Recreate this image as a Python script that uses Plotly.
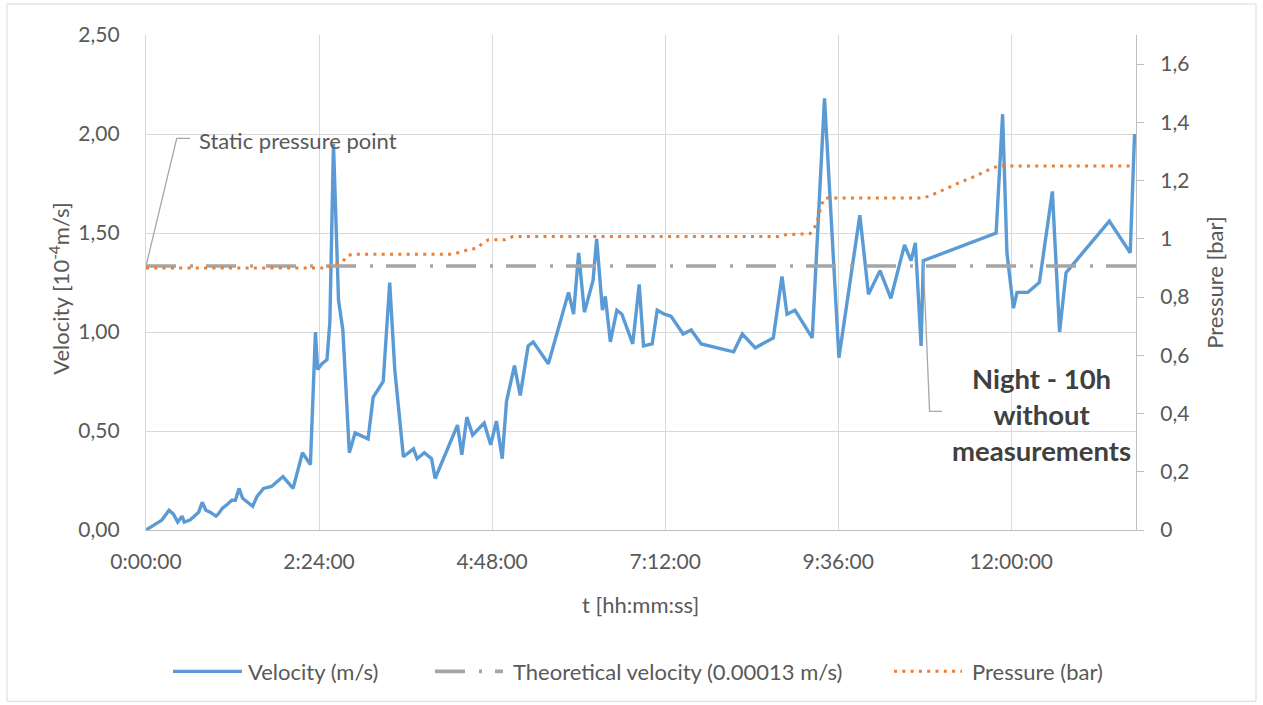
import plotly.graph_objects as go

# ---------------- data ----------------
tick_labels = ["0:00:00", "2:24:00", "4:48:00", "7:12:00", "9:36:00", "12:00:00"]

# time in hours, velocity in 10^-4 m/s
vel_t = [0.00, 0.09, 0.15, 0.22, 0.32, 0.38, 0.44, 0.50, 0.53, 0.61, 0.67, 0.73, 0.78, 0.83, 0.89,
         0.97, 1.00, 1.06, 1.13, 1.19, 1.24, 1.29, 1.34, 1.48, 1.54, 1.63, 1.74, 1.90, 2.04, 2.17,
         2.28, 2.35, 2.38, 2.44, 2.51, 2.55, 2.60, 2.67, 2.73, 2.82, 2.90, 3.08, 3.15, 3.29, 3.38,
         3.45, 3.57, 3.71, 3.76, 3.86, 3.96, 4.01, 4.32, 4.38, 4.45, 4.53, 4.69, 4.78, 4.86, 4.94,
         5.00, 5.11, 5.19, 5.30, 5.37, 5.58, 5.86, 5.93, 6.00, 6.08, 6.14, 6.20, 6.25, 6.33, 6.37,
         6.44, 6.53, 6.60, 6.75, 6.84, 6.90, 7.02, 7.09, 7.19, 7.28, 7.45, 7.56, 7.70, 8.15, 8.27,
         8.45, 8.70, 8.82, 8.89, 9.00, 9.24, 9.41, 9.61, 9.90, 10.02, 10.18, 10.33, 10.52, 10.61, 10.67,
         10.75, 10.78, 11.79, 11.88, 11.94, 12.03, 12.08, 12.23, 12.39, 12.57, 12.67, 12.76, 13.36, 13.65,
         13.71]
vel = [0.00, 0.02, 0.03, 0.05, 0.10, 0.08, 0.04, 0.07, 0.04, 0.05, 0.07, 0.09, 0.14, 0.10, 0.09,
       0.07, 0.08, 0.11, 0.13, 0.15, 0.15, 0.21, 0.16, 0.12, 0.17, 0.21, 0.22, 0.27, 0.21, 0.39,
       0.33, 1.00, 0.81, 0.84, 0.86, 1.05, 1.95, 1.16, 1.01, 0.39, 0.49, 0.46, 0.67, 0.75, 1.25,
       0.81, 0.37, 0.41, 0.36, 0.39, 0.36, 0.26, 0.53, 0.38, 0.57, 0.48, 0.54, 0.43, 0.55, 0.36,
       0.65, 0.83, 0.68, 0.93, 0.95, 0.84, 1.20, 1.09, 1.40, 1.10, 1.18, 1.26, 1.47, 1.11, 1.18,
       0.95, 1.11, 1.09, 0.94, 1.24, 0.93, 0.94, 1.11, 1.09, 1.08, 0.99, 1.01, 0.94, 0.90, 0.99,
       0.92, 0.97, 1.28, 1.09, 1.11, 0.97, 2.18, 0.87, 1.59, 1.19, 1.31, 1.17, 1.44, 1.36, 1.45,
       0.93, 1.36, 1.50, 2.10, 1.40, 1.12, 1.20, 1.20, 1.25, 1.71, 1.00, 1.30, 1.56, 1.40,
       2.00]

theo_t = [0.00, 13.73]
theo_v = [1.333, 1.333]

# pressure in bar
pres_t = [0.00, 2.52, 2.60, 2.72, 2.79, 2.86, 4.26, 4.37, 4.47, 4.59, 4.66, 4.75, 4.98, 5.09,
          8.77, 8.87, 9.21, 9.27, 9.31, 9.34, 9.37, 9.41, 10.76, 10.87, 11.08, 11.28, 11.50,
          11.71, 11.82, 13.68]
pres = [0.90, 0.90, 0.914, 0.919, 0.942, 0.947, 0.947, 0.955, 0.963, 0.968, 0.983, 0.997, 0.997,
        1.008, 1.008, 1.014, 1.018, 1.037, 1.063, 1.09, 1.117, 1.14, 1.14, 1.147, 1.171, 1.193,
        1.215, 1.240, 1.25, 1.25]

night_idx = 106  # last measurement before the night gap


def to_hours(s):
    h, m, sec = (int(p) for p in s.split(":"))
    return h + m / 60 + sec / 3600


tick_vals = [to_hours(s) for s in tick_labels]

# ---------------- styles ----------------
FONT = "Lato"
TXT = "#595959"
BLUE = "#5B9BD5"
GRAY = "#A5A5A5"
ORANGE = "#ED7D31"
GRID = "#D9D9D9"
AXIS = "#BFBFBF"
GRAY_DASH = "30px,14px,3px,13px"
ORANGE_DOT = "3px,5.3px"
TICK_FS = 21
TEXT_FS = 22

W, H = 1263, 705
L, R, T, B = 146, 127, 35, 174.5
PW, PH = W - L - R, H - T - B


def px(x):  # pixel x -> paper
    return (x - L) / PW


def py(y):  # pixel y -> paper
    return (H - B - y) / PH


fig = go.Figure()
fig.add_trace(go.Scatter(x=vel_t, y=vel, mode="lines", name="Velocity (m/s)",
                         line=dict(color=BLUE, width=3.4), showlegend=False))
fig.add_trace(go.Scatter(x=theo_t, y=theo_v, mode="lines", name="Theoretical velocity (0.00013 m/s)",
                         line=dict(color=GRAY, width=3.6, dash=GRAY_DASH), showlegend=False))
fig.add_trace(go.Scatter(x=pres_t, y=pres, mode="lines", name="Pressure (bar)", yaxis="y2",
                         line=dict(color=ORANGE, width=3, dash=ORANGE_DOT), showlegend=False))

shapes = []
annotations = []

# chart border
shapes.append(dict(type="rect", xref="paper", yref="paper",
                   x0=px(7), x1=px(1256), y0=py(702), y1=py(4),
                   line=dict(color=GRID, width=1), layer="below"))

# leader: static pressure point
sx, sy = theo_t[0], theo_v[0]
shapes.append(dict(type="path", xref="x", yref="y",
                   path=f"M {sx},{sy} L 0.426,1.978 L 0.611,1.978",
                   line=dict(color="#A6A6A6", width=1.3)))
annotations.append(dict(x=0.71, y=1.969, xref="x", yref="y", text="Static pressure point",
                        showarrow=False, xanchor="left", yanchor="middle",
                        font=dict(family=FONT, size=TEXT_FS, color=TXT)))

# leader: night gap
nx, ny = vel_t[night_idx], vel[night_idx]
shapes.append(dict(type="path", xref="x", yref="y",
                   path=f"M {nx},{ny} L 10.867,0.599 L 11.04,0.599",
                   line=dict(color="#A6A6A6", width=1.3)))
annotations.append(dict(x=12.42, y=0.583, xref="x", yref="y",
                        text="<b>Night - 10h<br>without<br>measurements</b>",
                        showarrow=False, xanchor="center", yanchor="middle", align="center",
                        font=dict(family=FONT, size=27.5, color="#404040")))

# axis titles
annotations.append(dict(x=px(60), y=py(289), xref="paper", yref="paper", textangle=-90,
                        text="Velocity [10<sup>-4</sup>m/s]", showarrow=False,
                        xanchor="center", yanchor="middle",
                        font=dict(family=FONT, size=TEXT_FS, color=TXT)))
annotations.append(dict(x=px(1215), y=py(283), xref="paper", yref="paper", textangle=-90,
                        text="Pressure [bar]", showarrow=False,
                        xanchor="center", yanchor="middle",
                        font=dict(family=FONT, size=TEXT_FS, color=TXT)))
annotations.append(dict(x=px(640), y=py(605), xref="paper", yref="paper",
                        text="t [hh:mm:ss]", showarrow=False,
                        xanchor="center", yanchor="middle",
                        font=dict(family=FONT, size=TEXT_FS, color=TXT)))

# manual legend
leg_y = py(672)
legend_items = [
    (173, 242, 246, BLUE, 3.4, None, fig.data[0].name),
    (435, 503, 511, GRAY, 3.6, GRAY_DASH, fig.data[1].name),
    (894, 962, 970, ORANGE, 3, ORANGE_DOT, fig.data[2].name),
]
for x0, x1, tx, col, wd, dash, name in legend_items:
    ln = dict(color=col, width=wd)
    if dash:
        ln["dash"] = dash
    shapes.append(dict(type="line", xref="paper", yref="paper",
                       x0=px(x0), x1=px(x1), y0=leg_y, y1=leg_y, line=ln))
    annotations.append(dict(x=px(tx), y=leg_y, xref="paper", yref="paper", text=name,
                            showarrow=False, xanchor="left", yanchor="middle",
                            font=dict(family=FONT, size=TEXT_FS, color=TXT)))

fig.update_layout(
    width=W, height=H,
    margin=dict(l=L, r=R, t=T, b=B, pad=0),
    paper_bgcolor="white", plot_bgcolor="white",
    separators=",.",
    font=dict(family=FONT, size=TICK_FS, color=TXT),
    showlegend=False,
    shapes=shapes,
    annotations=annotations,
    xaxis=dict(range=[0, 13.73], tickvals=tick_vals, ticktext=tick_labels,
               showgrid=True, gridcolor=GRID, gridwidth=1.3, zeroline=False,
               showline=True, linecolor=AXIS, linewidth=1.3,
               ticks="", ticklabelstandoff=13,
               tickfont=dict(family=FONT, size=TICK_FS, color=TXT)),
    yaxis=dict(range=[0, 2.5], dtick=0.5, tick0=0, tickformat=".2f",
               showgrid=True, gridcolor=GRID, gridwidth=1.3, zeroline=False,
               showline=True, linecolor=GRID, linewidth=1.3,
               ticks="", ticklabelstandoff=21,
               tickfont=dict(family=FONT, size=TICK_FS, color=TXT)),
    yaxis2=dict(range=[0, 1.7], dtick=0.2, tick0=0, overlaying="y", side="right",
                showgrid=False, zeroline=False,
                showline=True, linecolor=AXIS, linewidth=1.3,
                ticks="outside", ticklen=7, tickcolor=AXIS, tickwidth=1.3,
                ticklabelstandoff=12,
                tickfont=dict(family=FONT, size=TICK_FS, color=TXT)),
)

fig.write_html("out.html")
